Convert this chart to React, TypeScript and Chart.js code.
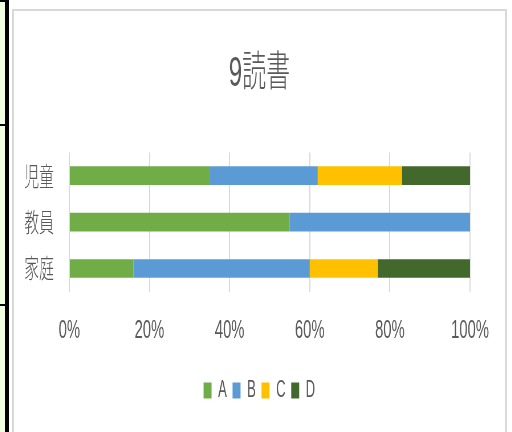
import React, { useEffect, useRef } from "react";
import { Chart, registerables } from "chart.js";

Chart.register(...registerables);

const title = "9読書";
const categories = ["児童", "教員", "家庭"];
const seriesNames = ["A", "B", "C", "D"];
const seriesA = [35, 55, 16];
const seriesB = [27, 45, 44];
const seriesC = [21, 0, 17];
const seriesD = [17, 0, 23];
const seriesColors = ["#70AD47", "#5B9BD5", "#FFC000", "#43682B"];
const xTicks = [0, 20, 40, 60, 80, 100];

const SX = 0.57;
const IW = Math.round(491 / SX);
const IH = 421;
const FONT = "'Liberation Sans', 'Noto Sans CJK JP', sans-serif";
const CJK = "'Noto Sans CJK JP', sans-serif";
const TEXT = "#595959";

export default function App() {
  const ref = useRef<HTMLCanvasElement | null>(null);
  useEffect(() => {
    if (!ref.current) return;
    const values = [seriesA, seriesB, seriesC, seriesD];
    const chart = new Chart(ref.current, {
      type: "bar",
      data: {
        labels: categories,
        datasets: seriesNames.map((n, i) => ({
          label: n,
          data: values[i],
          backgroundColor: seriesColors[i],
          borderWidth: 0,
          barPercentage: 0.4,
          categoryPercentage: 1,
        })),
      },
      options: {
        indexAxis: "y",
        responsive: false,
        maintainAspectRatio: false,
        animation: false,
        devicePixelRatio: 1,
        layout: { padding: { left: 18, right: 18, top: 10, bottom: 20 } },
        plugins: {
          title: {
            display: true,
            text: title,
            color: TEXT,
            font: { family: FONT, size: 42, weight: "300" },
            padding: { top: 28, bottom: 53 },
          },
          legend: {
            position: "bottom",
            labels: {
              color: TEXT,
              font: { family: FONT, size: 23 },
              boxWidth: 14,
              boxHeight: 16,
              padding: 10,
            },
          },
          tooltip: { enabled: false },
        },
        scales: {
          x: {
            stacked: true,
            min: 0,
            max: 100,
            afterBuildTicks: (axis: any) => {
              axis.ticks = xTicks.map((v) => ({ value: v }));
            },
            ticks: {
              color: TEXT,
              font: { family: FONT, size: 26 },
              padding: 23,
              callback: (v: any) => v + "%",
            },
            grid: { color: "#D9D9D9", lineWidth: 2, drawTicks: false },
            border: { display: false },
          },
          y: {
            stacked: true,
            afterFit: (axis: any) => {
              axis.width = 79;
            },
            ticks: {
              color: TEXT,
              font: { family: CJK, size: 26, weight: "300" },
              padding: 27,
            },
            grid: { display: false, drawTicks: false },
            border: { display: false },
          },
          spacer: {
            type: "category",
            position: "right",
            display: true,
            afterFit: (axis: any) => {
              axis.width = 43;
            },
            ticks: { display: false },
            grid: { display: false, drawTicks: false },
            border: { display: false },
          },
        },
      },
    });
    return () => chart.destroy();
  }, []);

  return (
    <div
      style={{
        position: "fixed",
        left: 0,
        top: 0,
        width: 512,
        height: 432,
        overflow: "hidden",
        background: "#ffffff",
      }}
    >
      <div style={{ position: "absolute", left: 0, top: 0, width: 5, height: 432, background: "#EFFFE0" }} />
      <div style={{ position: "absolute", left: 5, top: 0, width: 4, height: 432, background: "#000" }} />
      <div style={{ position: "absolute", left: 0, top: 0, width: 5, height: 2, background: "#000" }} />
      <div style={{ position: "absolute", left: 0, top: 124, width: 5, height: 2, background: "#000" }} />
      <div style={{ position: "absolute", left: 0, top: 304, width: 5, height: 2, background: "#000" }} />
      <div
        style={{
          position: "absolute",
          left: 12,
          top: 9,
          width: 491,
          height: 440,
          border: "2px solid #D9D9D9",
          background: "#fff",
          overflow: "hidden",
        }}
      >
        <div style={{ width: IW, height: IH, transform: `scaleX(${SX})`, transformOrigin: "0 0" }}>
          <canvas ref={ref} width={IW} height={IH} />
        </div>
      </div>
    </div>
  );
}
